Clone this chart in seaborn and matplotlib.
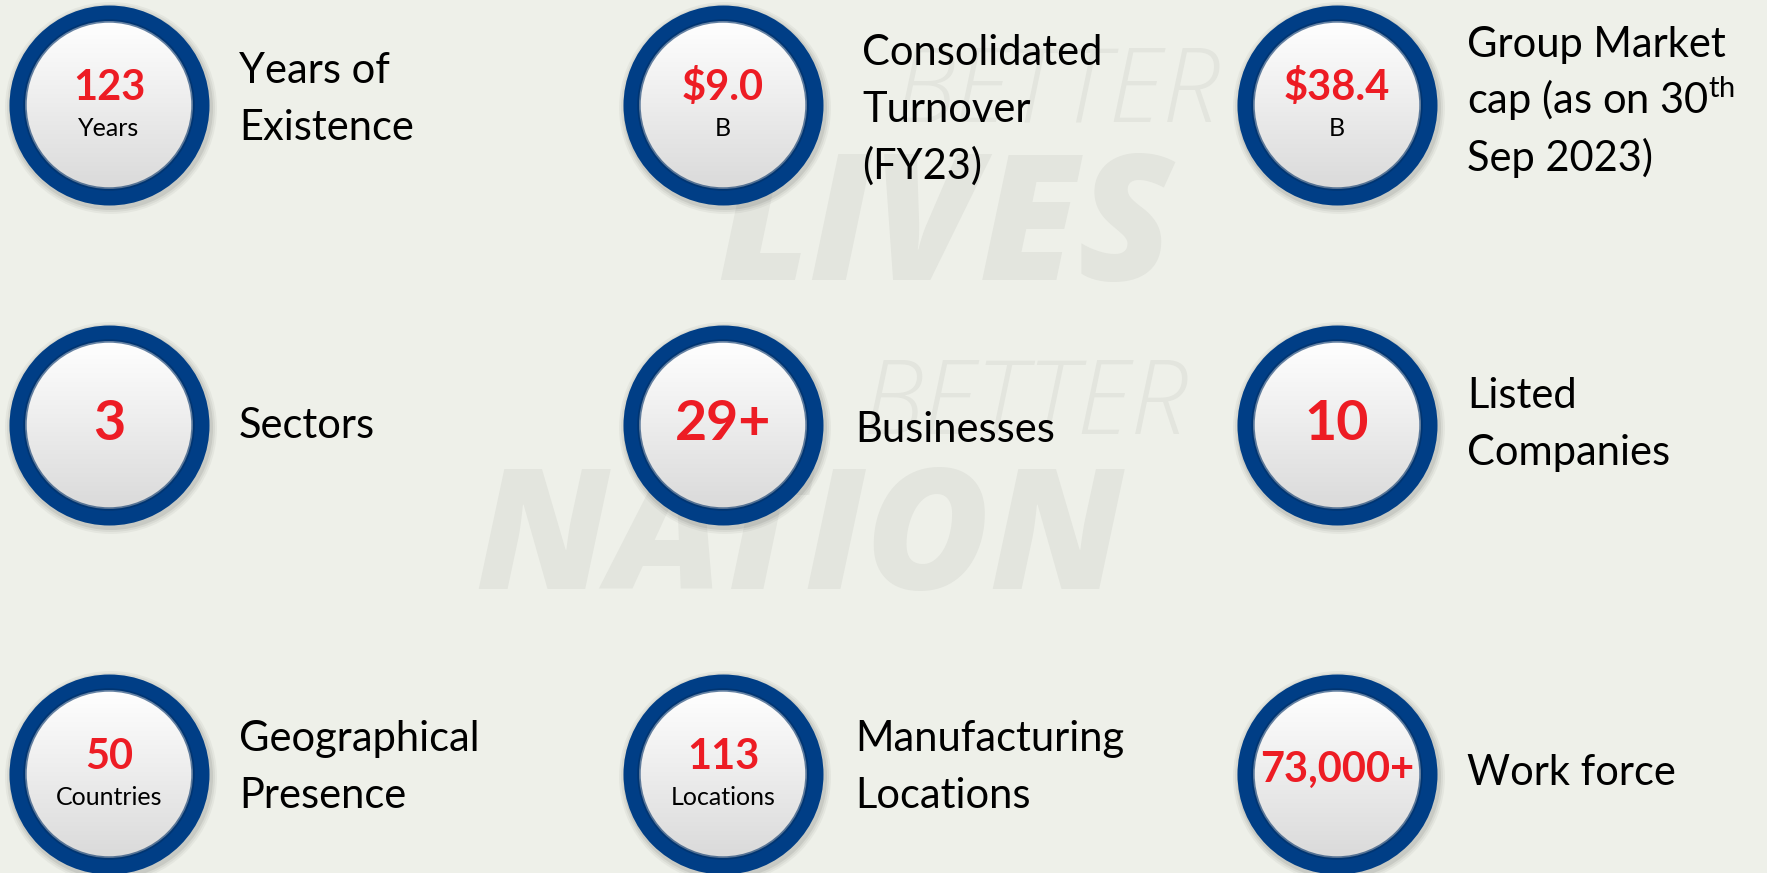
import numpy as np
import matplotlib.pyplot as plt
import seaborn as sns
from matplotlib.patches import Circle

# values shown in the circles
values = ['123', '$9.0', '$38.4', '3', '29+', '10', '50', '113', '73,000+']
units = ['Years', 'B', 'B', '', '', '', 'Countries', 'Locations', '']
captions = [['Years of', 'Existence'],
            ['Consolidated', 'Turnover', '(FY23)'],
            ['Group Market', r'cap (as on 30$^{\mathrm{th}}$', 'Sep 2023)'],
            ['Sectors'],
            ['Businesses'],
            ['Listed', 'Companies'],
            ['Geographical', 'Presence'],
            ['Manufacturing', 'Locations'],
            ['Work force']]
watermark = ['BETTER', 'LIVES', 'BETTER', 'NATION']

sns.set_theme(style='white')
plt.rcParams['font.family'] = ['Lato', 'DejaVu Sans']
plt.rcParams['mathtext.fontset'] = 'custom'
plt.rcParams['mathtext.rm'] = 'Lato'

BG = '#EEF0E9'
RED = '#ED1C24'
BLUE = '#003E86'

fig = plt.figure(figsize=(17.67, 8.73), dpi=100, facecolor=BG)
ax = fig.add_axes([0, 0, 1, 1])
ax.set_facecolor(BG)

# layout (pixels)
col_x = [109, 723, 1337]
row_y = [105, 425, 774]
cap_x = [239, 862, 1467, 239, 855, 1467, 239, 855, 1467]
cap_y = [83, 65, 57, 438, 442, 408, 751, 751, 785]
R_OUT, R_IN = 100, 84

# watermark
wm_pos = [(1058, 122, 74, 'light'), (945, 280, 126, 'heavy'),
          (1026, 434, 74, 'light'), (800, 589, 122, 'heavy')]
for word, (wx, wy, fs, wt) in zip(watermark, wm_pos):
    ax.text(wx, wy, word, ha='center', va='baseline', fontsize=fs,
            fontweight=wt, style='italic', color='#E3E5DE', zorder=1,
            family=['Open Sans', 'DejaVu Sans'])

cx = [col_x[i % 3] for i in range(9)]
cy = [row_y[i // 3] for i in range(9)]

# soft shadow
for k, a in [(6, 0.04), (4, 0.05), (2, 0.07)]:
    for x, y in zip(cx, cy):
        ax.add_patch(Circle((x + 2, y + 3), R_OUT + k, color='black',
                            alpha=a, lw=0, zorder=2))

# blue rings
sns.scatterplot(x=cx, y=cy, s=(2 * R_OUT * 0.72) ** 2, color=BLUE,
                linewidth=0, ax=ax, zorder=3, legend=False)

grad = np.linspace(1.0, 0.855, 256).reshape(-1, 1)
grad = np.dstack([grad, grad, grad])
for x, y in zip(cx, cy):
    inner = Circle((x, y), R_IN, transform=ax.transData, facecolor='none',
                   edgecolor='#002f66', lw=2.5, alpha=0.6, zorder=5)
    ax.add_patch(inner)
    im = ax.imshow(grad, extent=(x - R_IN, x + R_IN, y + R_IN, y - R_IN),
                   aspect='auto', interpolation='bilinear', zorder=4)
    im.set_clip_path(inner)

for i, (val, unit) in enumerate(zip(values, units)):
    x, y = cx[i], cy[i]
    if unit:
        ax.text(x, y - 5, val, ha='center', va='baseline', fontsize=30,
                fontweight='bold', color=RED, zorder=6, parse_math=False)
        ax.text(x, y + 31, unit, ha='center', va='baseline', fontsize=18,
                color='black', zorder=6)
    elif len(val) <= 3:
        ax.text(x, y + 15, val, ha='center', va='baseline', fontsize=40,
                fontweight='bold', color=RED, zorder=6, parse_math=False)
    else:
        ax.text(x, y + 8, val, ha='center', va='baseline', fontsize=30,
                fontweight='bold', color=RED, zorder=6, parse_math=False)

for i, lines in enumerate(captions):
    for j, line in enumerate(lines):
        ax.text(cap_x[i], cap_y[i] + 57 * j, line, ha='left', va='baseline',
                fontsize=30, color='black', zorder=6)

ax.set_xlim(0, 1767)
ax.set_ylim(873, 0)
ax.axis('off')
fig.savefig('out.png', dpi=100, facecolor=BG)
